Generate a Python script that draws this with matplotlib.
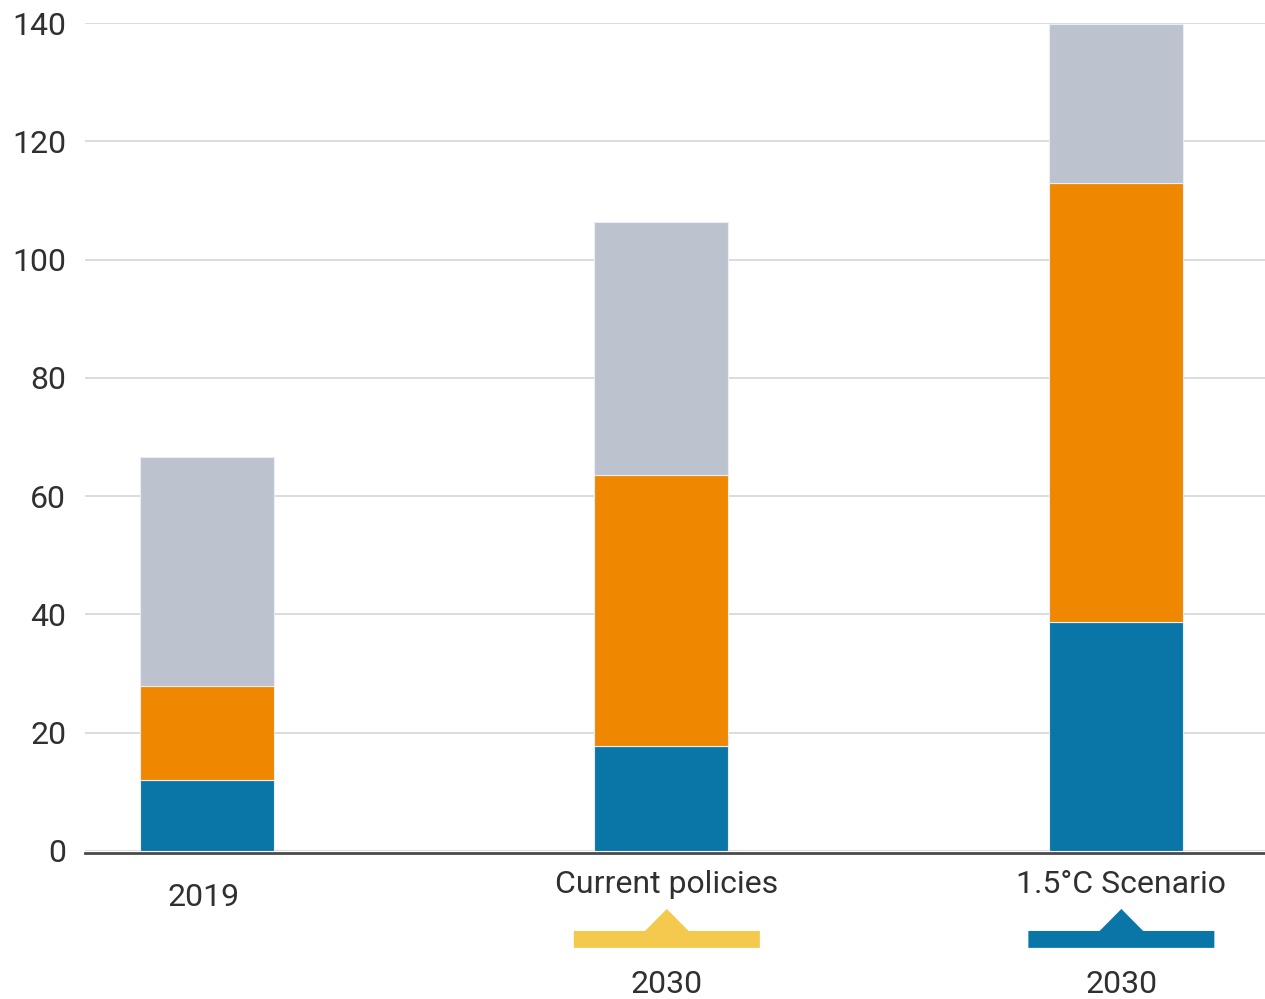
import numpy as np
import matplotlib.pyplot as plt
from matplotlib.patches import Polygon
import matplotlib.transforms as mtransforms

plt.rcParams['font.family'] = ['Roboto', 'DejaVu Sans']

# data
categories = ['2019', 'Current policies', '1.5°C Scenario']
sublabels = ['', '2030', '2030']
blue_vals = [12.0, 17.8, 38.7]
orange_vals = [15.9, 45.8, 74.3]
grey_vals = [38.7, 42.8, 26.8]
yticks = [0, 20, 40, 60, 80, 100, 120, 140]

BLUE = '#0a76a8'
ORANGE = '#f08700'
GREY = '#bcc3cf'
YELLOW = '#f4c94d'
TXT = '#303030'
FS = 23

fig = plt.figure(figsize=(12.65, 9.99), dpi=100)
ax = fig.add_axes([85 / 1265, 1 - 851 / 999, 1180 / 1265, 828 / 999])

x = np.arange(len(categories))
w = 0.295
b1 = np.array(blue_vals)
b2 = b1 + np.array(orange_vals)
ax.bar(x, blue_vals, w, color=BLUE, edgecolor='#e8eef4', linewidth=0.8, zorder=3)
ax.bar(x, orange_vals, w, bottom=b1, color=ORANGE, edgecolor='#e8eef4', linewidth=0.8, zorder=3)
ax.bar(x, grey_vals, w, bottom=b2, color=GREY, edgecolor='#e8eef4', linewidth=0.8, zorder=3)

ax.set_xlim(-0.268, 2.328)
ax.set_ylim(0, 140)
ax.set_yticks(yticks)
ax.set_yticklabels([str(t) for t in yticks], fontsize=FS, color=TXT)
ax.tick_params(axis='y', length=0, pad=13.5)
ax.set_xticks([])
ax.yaxis.grid(True, color='#dcdcdc', linewidth=1.4, zorder=0)
ax.set_axisbelow(True)
for s in ['top', 'right', 'left']:
    ax.spines[s].set_visible(False)
ax.spines['bottom'].set_color('#4a4a4a')
ax.spines['bottom'].set_linewidth(2.0)
ax.spines['bottom'].set_position(('data', -0.3))

trans = mtransforms.blended_transform_factory(ax.transData, ax.transAxes)
off = 0.012
ax.text(x[0] - 0.008, -0.0556, categories[0], transform=trans, ha='center', va='center',
        fontsize=FS, color=TXT)
marker_cols = [None, YELLOW, BLUE]
for i in (1, 2):
    c = x[i] + off
    ax.text(c, -0.040, categories[i], transform=trans, ha='center', va='center',
            fontsize=FS, color=TXT)
    ax.text(c, -0.161, sublabels[i], transform=trans, ha='center', va='center',
            fontsize=FS, color=TXT)
    hw, tb = 0.2046, 0.048
    yb, yt, ya = -0.117, -0.0966, -0.070
    pts = [(c - hw, yb), (c + hw, yb), (c + hw, yt), (c + tb, yt), (c, ya),
           (c - tb, yt), (c - hw, yt)]
    ax.add_patch(Polygon(pts, closed=True, transform=trans, facecolor=marker_cols[i],
                         edgecolor='none', clip_on=False))

fig.savefig('out.png', dpi=100)
